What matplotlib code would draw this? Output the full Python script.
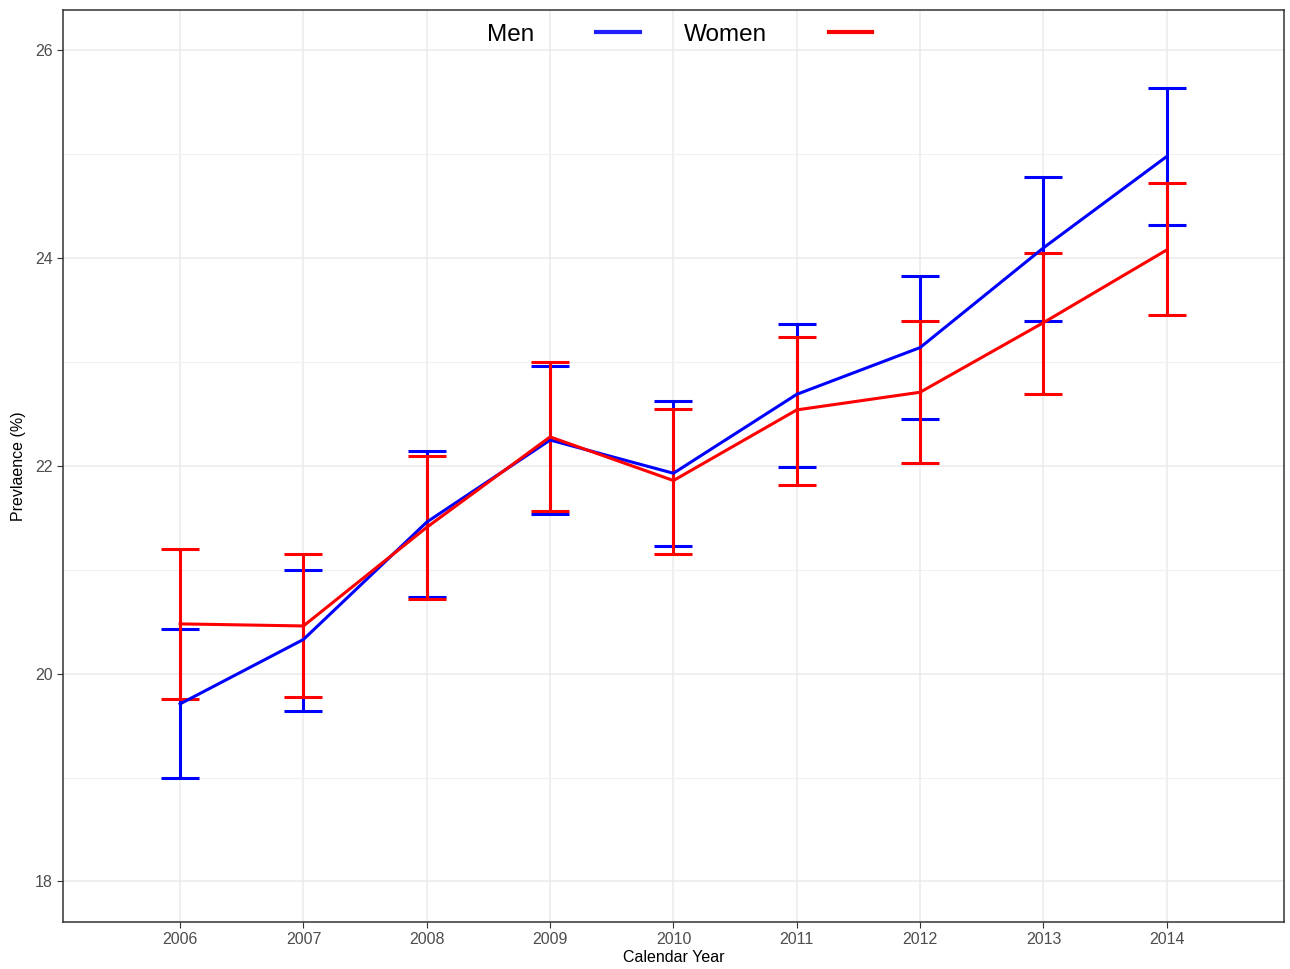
import matplotlib.pyplot as plt
from matplotlib.lines import Line2D

plt.rcParams['font.family'] = ['Liberation Sans', 'DejaVu Sans']

years = [2006, 2007, 2008, 2009, 2010, 2011, 2012, 2013, 2014]

men = [19.71, 20.33, 21.46, 22.25, 21.93, 22.69, 23.14, 24.10, 24.98]
men_lo = [19.00, 19.64, 20.74, 21.54, 21.23, 21.99, 22.45, 23.40, 24.32]
men_hi = [20.43, 21.00, 22.14, 22.96, 22.63, 23.37, 23.83, 24.78, 25.64]

women = [20.48, 20.46, 21.41, 22.28, 21.86, 22.54, 22.71, 23.38, 24.08]
women_lo = [19.76, 19.78, 20.72, 21.57, 21.15, 21.82, 22.03, 22.69, 23.45]
women_hi = [21.20, 21.15, 22.10, 23.00, 22.55, 23.24, 23.40, 24.05, 24.72]

fig = plt.figure(figsize=(12.9, 9.69), dpi=100)
ax = fig.add_axes([0.0488, 0.0485, 0.9465, 0.9412])

def draw(vals, lo, hi, color):
    err = [[v - l for v, l in zip(vals, lo)], [h - v for v, h in zip(vals, hi)]]
    ax.errorbar(years, vals, yerr=err, color=color, lw=2.2, elinewidth=2.2,
                capsize=13.5, capthick=2.2, zorder=3)

draw(men, men_lo, men_hi, "#0000FF")
draw(women, women_lo, women_hi, "#FF0000")

ax.set_xlim(2005.05, 2014.95)
ax.set_ylim(17.61, 26.39)
ax.set_xticks(years)
ax.set_yticks([18, 20, 22, 24, 26])
ax.set_yticks([19, 21, 23, 25], minor=True)
ax.grid(True, which="major", color="#EBEBEB", lw=1.1, zorder=0)
ax.grid(True, which="minor", axis="y", color="#F0F0F0", lw=0.8, zorder=0)
ax.tick_params(which="major", labelsize=11.5, labelcolor="#4D4D4D", color="#333333", length=4)
ax.tick_params(which="minor", length=0)
for s in ax.spines.values():
    s.set_color("#333333")
    s.set_linewidth(1.1)

ax.set_xlabel("Calendar Year", fontsize=11.5, labelpad=2)
ax.set_ylabel("Prevlaence (%)", fontsize=11.5, labelpad=6)

handles = [Line2D([], [], color="#2020FF", lw=3),
           Line2D([], [], color="#FF0000", lw=3)]
ax.legend(handles, ["Men", "Women"], loc="upper center", ncol=2, frameon=False,
          markerfirst=False, fontsize=17.5, handlelength=1.8, columnspacing=1.8,
          handletextpad=2.55, bbox_to_anchor=(0.505, 1.009))

fig.savefig("out.png", dpi=100)
